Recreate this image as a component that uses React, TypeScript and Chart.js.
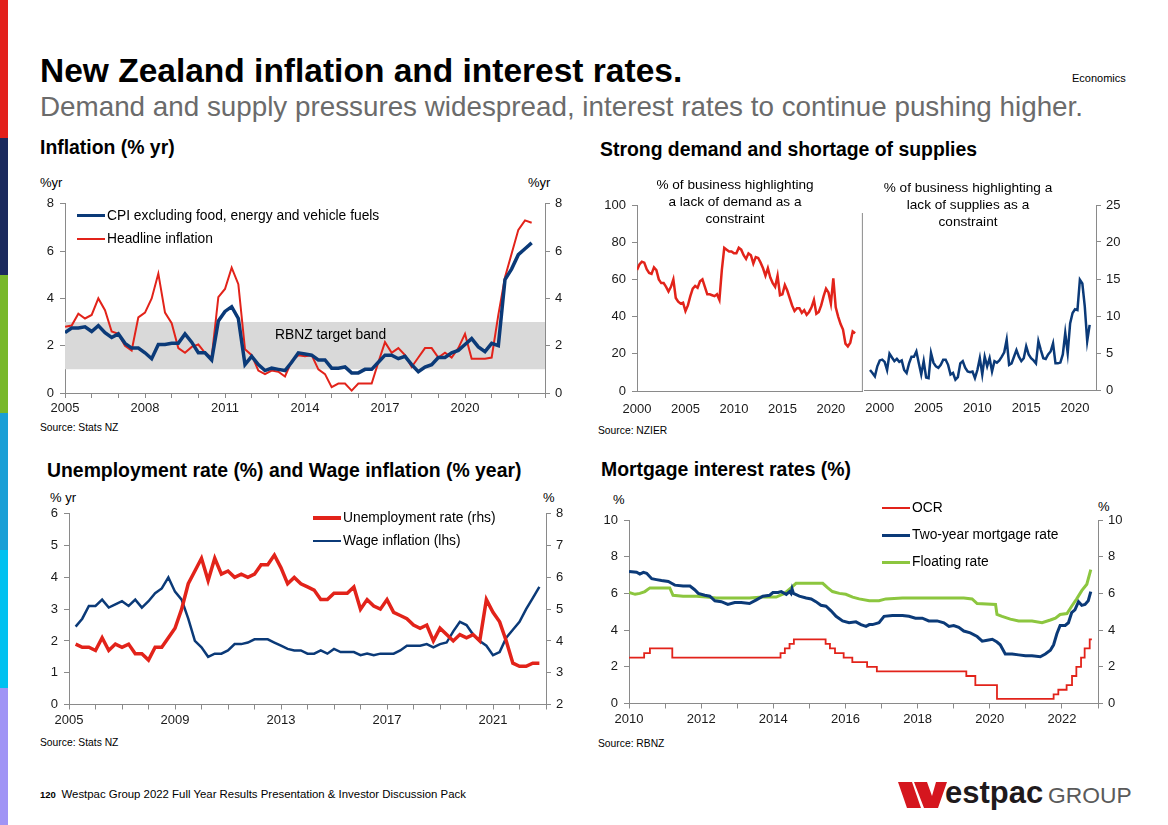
import React, { useEffect, useRef } from "react";
import { Chart, registerables } from "chart.js";

Chart.register(...registerables);

const FONT = '"Liberation Sans", Arial, Helvetica, sans-serif';
Chart.defaults.font.family = FONT;

const RED = "#e2231a";
const NAVY = "#0b3a78";
const GREEN = "#8cc63f";
const AXIS = "#8a8a8a";
const TXT = "#1a1a1a";
const BAND = "#d9d9d9";

// ---------------- Chart 1: Inflation (% yr), quarterly from 2005 Q1 ----------------
const inflStartYear = 2005;
const headlineInflation = [
  2.8, 2.85, 3.35, 3.15, 3.3, 4.0, 3.5, 2.6, 2.5, 2.0, 1.8, 3.2, 3.4, 4.0, 5.05, 3.4,
  2.95, 1.9, 1.7, 1.95, 2.05, 1.7, 1.5, 4.05, 4.4, 5.3, 4.6, 1.85, 1.6, 0.95, 0.8, 0.95,
  0.9, 0.7, 1.35, 1.6, 1.55, 1.6, 1.0, 0.8, 0.25, 0.4, 0.4, 0.1, 0.4, 0.4, 0.4, 1.3,
  2.15, 1.7, 1.9, 1.6, 1.1, 1.5, 1.9, 1.9, 1.5, 1.7, 1.5, 1.9, 2.5, 1.45, 1.45, 1.45,
  1.5, 3.3, 4.9, 5.9, 6.9, 7.3, 7.2,
];
const coreInflation = [
  2.55, 2.75, 2.75, 2.8, 2.6, 2.85, 2.55, 2.35, 2.5, 2.1, 1.9, 1.9, 1.7, 1.45, 2.05, 2.05,
  2.1, 2.1, 2.5, 2.15, 1.7, 1.7, 1.4, 3.05, 3.45, 3.65, 3.15, 1.2, 1.55, 1.2, 0.95, 1.05,
  1.0, 0.95, 1.3, 1.7, 1.65, 1.6, 1.4, 1.4, 1.05, 1.05, 1.1, 0.85, 0.85, 1.0, 1.0, 1.3,
  1.6, 1.6, 1.45, 1.55, 1.2, 0.9, 1.1, 1.2, 1.5, 1.5, 1.7, 1.8, 2.05, 2.3, 1.95, 1.75,
  2.1, 2.0, 4.8, 5.25, 5.85, 6.1, 6.35,
];
const targetBandLow = 1;
const targetBandHigh = 3;

// ---------------- Chart 2: NZIER constraints, quarterly ----------------
const demandStartYear = 2000;
const lackOfDemand = [
  65, 68, 69.5, 69, 65.5, 63.5, 63, 66.5, 65, 60, 58, 58, 56, 53.5, 56, 60, 50, 48, 47, 47.5,
  43, 46, 51, 55, 56.5, 55.5, 59, 60, 56, 52, 52, 51.5, 51, 52, 49, 65, 77, 76, 75, 75,
  74, 74, 77, 76, 73, 71, 74, 73, 68.5, 72, 71.5, 69, 66, 62, 66, 61, 58, 56, 62, 51.5,
  52, 57, 54, 50, 46, 43, 44.5, 44.5, 42, 43.5, 41, 42.5, 45, 49, 41.5, 42.5, 46, 51, 55, 53,
  47, 60.5, 45, 40, 36, 33, 25.5, 24, 26, 32, 31,
];
const supplyStartYear = 1999;
const lackOfSupplies = [
  2.7, 2.3, 1.85, 3.2, 4.0, 4.1, 3.8, 2.7, 4.9, 4.4, 3.9, 4.2, 3.8, 4.0, 2.7, 2.3, 3.6, 4.5, 4.5, 5.2,
  3.6, 2.1, 3.9, 1.7, 1.6, 5.0, 3.7, 3.2, 3.0, 3.4, 4.1, 4.1, 3.4, 2.1, 2.3, 1.4, 1.75, 3.6, 3.9, 3.0,
  2.5, 2.4, 2.5, 1.6, 2.7, 4.3, 2.1, 4.5, 3.2, 4.3, 2.5, 3.9, 3.7, 4.0, 4.5, 5.1, 6.8, 3.4, 3.6, 4.5,
  5.4, 4.5, 3.9, 4.3, 5.9, 4.8, 4.3, 4.0, 3.6, 6.6, 5.4, 4.3, 4.2, 4.8, 5.2, 6.3, 3.6, 3.6, 3.7, 4.8,
  7.7, 5.0, 9.0, 10.4, 10.9, 10.8, 14.9, 14.4, 11.3, 6.6, 8.8,
];

// ---------------- Chart 3: Unemployment & wages, quarterly ----------------
const labourStartYear = 2005.25;
const unemploymentRate = [
  3.9, 3.8, 3.8, 3.7, 4.1, 3.7, 3.9, 3.8, 3.9, 3.6, 3.6, 3.4, 3.8, 3.8, 4.1, 4.4, 5.0, 5.8, 6.2, 6.6,
  5.9, 6.6, 6.1, 6.2, 6.0, 6.1, 6.0, 6.1, 6.4, 6.4, 6.7, 6.3, 5.8, 6.0, 5.8, 5.7, 5.6, 5.3, 5.3, 5.5,
  5.5, 5.5, 5.7, 5.0, 5.3, 5.1, 5.0, 5.3, 4.9, 4.8, 4.7, 4.5, 4.4, 4.5, 4.0, 4.4, 4.2, 4.0, 4.2, 4.1,
  4.2, 4.0, 5.3, 4.9, 4.6, 4.0, 3.3, 3.2, 3.2, 3.3, 3.3,
];
const wageInflation = [
  2.45, 2.7, 3.1, 3.1, 3.3, 3.05, 3.15, 3.25, 3.1, 3.3, 3.05, 3.25, 3.5, 3.65, 4.0, 3.55, 3.3, 2.7, 2.0, 1.8,
  1.5, 1.6, 1.6, 1.7, 1.9, 1.9, 1.95, 2.05, 2.05, 2.05, 1.95, 1.85, 1.75, 1.7, 1.7, 1.6, 1.6, 1.7, 1.6, 1.75,
  1.65, 1.65, 1.65, 1.55, 1.6, 1.55, 1.6, 1.6, 1.6, 1.7, 1.85, 1.85, 1.85, 1.9, 1.8, 1.9, 1.95, 2.3, 2.6, 2.5,
  2.2, 2.0, 1.85, 1.55, 1.65, 2.1, 2.35, 2.6, 3.0, 3.35, 3.7,
];

// ---------------- Chart 4: Mortgage rates ----------------
const ocrDates = [
  2010.0, 2010.42, 2010.58, 2011.2, 2014.2, 2014.32, 2014.45, 2014.57, 2015.45, 2015.57, 2015.71, 2015.95,
  2016.19, 2016.6, 2016.87, 2019.35, 2019.6, 2020.2, 2021.77, 2021.9, 2022.13, 2022.28, 2022.4, 2022.53,
  2022.63, 2022.77, 2022.83,
];
const ocrRates = [
  2.5, 2.75, 3.0, 2.5, 2.75, 3.0, 3.25, 3.5, 3.25, 3.0, 2.75, 2.5,
  2.25, 2.0, 1.75, 1.5, 1.0, 0.25, 0.5, 0.75, 1.0, 1.5, 2.0, 2.5,
  3.0, 3.5, 3.5,
];
const twoYearDates = [
  2010.0, 2010.21, 2010.3, 2010.4, 2010.49, 2010.63, 2010.76, 2010.9, 2011.09, 2011.18, 2011.27, 2011.5,
  2011.69, 2011.82, 2011.92, 2012.1, 2012.24, 2012.38, 2012.56, 2012.74, 2012.93, 2013.11, 2013.34, 2013.53,
  2013.71, 2013.9, 2013.99, 2014.13, 2014.22, 2014.36, 2014.45, 2014.49, 2014.52, 2014.56, 2014.72, 2014.91,
  2015.05, 2015.18, 2015.32, 2015.46, 2015.6, 2015.74, 2015.92, 2016.1, 2016.29, 2016.43, 2016.57, 2016.66,
  2016.75, 2016.93, 2017.07, 2017.3, 2017.58, 2017.76, 2017.94, 2018.13, 2018.31, 2018.54, 2018.73, 2018.87,
  2019.0, 2019.14, 2019.28, 2019.46, 2019.65, 2019.79, 2019.93, 2020.07, 2020.2, 2020.29, 2020.43, 2020.62,
  2020.8, 2020.99, 2021.17, 2021.4, 2021.54, 2021.68, 2021.77, 2021.86, 2021.95, 2022.09, 2022.18, 2022.27,
  2022.36, 2022.46, 2022.55, 2022.64, 2022.73, 2022.8,
];
const twoYearRates = [
  7.2, 7.15, 7.05, 7.15, 7.1, 6.8, 6.75, 6.7, 6.65, 6.55, 6.45, 6.4,
  6.4, 6.2, 6.0, 5.9, 5.85, 5.6, 5.55, 5.4, 5.5, 5.5, 5.45, 5.65,
  5.85, 5.9, 6.05, 6.05, 6.1, 5.95, 6.1, 6.0, 6.25, 6.0, 5.85, 5.75,
  5.7, 5.55, 5.35, 5.3, 5.05, 4.75, 4.5, 4.4, 4.45, 4.3, 4.2, 4.3,
  4.3, 4.4, 4.75, 4.8, 4.8, 4.75, 4.65, 4.65, 4.5, 4.5, 4.4, 4.2,
  4.25, 4.15, 3.95, 3.85, 3.65, 3.4, 3.45, 3.5, 3.35, 3.2, 2.7, 2.7,
  2.65, 2.6, 2.6, 2.55, 2.7, 2.9, 3.2, 3.8, 4.25, 4.25, 4.4, 4.95,
  5.1, 5.55, 5.35, 5.4, 5.6, 6.1,
];
const floatingDates = [
  2010.0, 2010.17, 2010.3, 2010.44, 2010.58, 2011.13, 2011.22, 2011.5, 2011.87, 2012.15, 2012.42, 2013.34,
  2013.71, 2014.08, 2014.31, 2014.49, 2014.63, 2015.37, 2015.51, 2015.64, 2015.83, 2016.01, 2016.2, 2016.38,
  2016.66, 2016.93, 2017.12, 2017.58, 2019.28, 2019.51, 2019.65, 2020.16, 2020.2, 2020.34, 2020.57, 2020.8,
  2021.17, 2021.45, 2021.68, 2021.82, 2021.95, 2022.14, 2022.27, 2022.41, 2022.55, 2022.69, 2022.8,
];
const floatingRates = [
  6.05, 5.95, 6.0, 6.1, 6.3, 6.3, 5.9, 5.85, 5.85, 5.8, 5.75, 5.75,
  5.8, 5.8, 6.0, 6.3, 6.55, 6.55, 6.3, 6.1, 6.0, 5.95, 5.8, 5.7,
  5.6, 5.6, 5.7, 5.75, 5.75, 5.7, 5.45, 5.4, 4.85, 4.75, 4.6, 4.5,
  4.5, 4.4, 4.55, 4.65, 4.85, 4.9, 5.3, 5.7, 6.15, 6.5, 7.3,
];

// ---------------- helpers ----------------
const quarterly = (start: number, values: number[]) =>
  values.map((v, i) => ({ x: start + i * 0.25, y: v }));
const paired = (xs: number[], ys: number[]) => xs.map((x, i) => ({ x, y: ys[i] }));

const tickFont = { family: FONT, size: 13 };

function yAxis(position: string, min: number, max: number, step: number, width: number, pad = 6) {
  return {
    type: "linear",
    position,
    min,
    max,
    ticks: { stepSize: step, font: tickFont, color: TXT, padding: pad },
    grid: { display: true, drawOnChartArea: false, drawTicks: true, tickLength: 5, color: AXIS },
    border: { display: true, color: AXIS, width: 1 },
    afterFit: (s: any) => {
      s.width = width;
    },
  };
}

function xAxis(min: number, max: number, isLabel: (v: number) => boolean, height: number, marks = true) {
  return {
    type: "linear",
    position: "bottom",
    min,
    max,
    afterBuildTicks: (s: any) => {
      const t: any[] = [];
      for (let y = Math.ceil(min); y <= Math.floor(max); y++) t.push({ value: y });
      s.ticks = t;
    },
    ticks: {
      autoSkip: false,
      maxRotation: 0,
      font: tickFont,
      color: TXT,
      padding: marks ? 3 : 6,
      callback: (v: any) => (isLabel(Number(v)) ? String(v) : ""),
    },
    grid: { display: marks, drawOnChartArea: false, drawTicks: true, tickLength: 5, color: AXIS },
    border: { display: true, color: AXIS, width: 1 },
    afterFit: (s: any) => {
      s.height = height;
    },
  };
}

const line = (data: any[], color: string, width: number, extra: any = {}) => ({
  data,
  borderColor: color,
  backgroundColor: color,
  borderWidth: width,
  pointRadius: 0,
  tension: 0,
  fill: false,
  ...extra,
});

const baseOptions = (padding: any, scales: any, plugins: any = {}) => ({
  responsive: false,
  animation: false,
  devicePixelRatio: 1,
  layout: { padding },
  scales,
  plugins: { legend: { display: false }, tooltip: { enabled: false }, ...plugins },
  events: [],
});

const dividerPlugin = {
  id: "divider",
  afterDraw(chart: any) {
    const { ctx, chartArea } = chart;
    ctx.save();
    ctx.strokeStyle = AXIS;
    ctx.lineWidth = 1;
    ctx.beginPath();
    ctx.moveTo(chartArea.right - 0.5, chartArea.top + 8);
    ctx.lineTo(chartArea.right - 0.5, chartArea.bottom);
    ctx.stroke();
    ctx.restore();
  },
};

// ---------------- chart configs ----------------
const inflationConfig = () => ({
  type: "line",
  data: {
    datasets: [
      line(quarterly(inflStartYear, coreInflation), NAVY, 3.5, { order: 1 }),
      line(quarterly(inflStartYear, headlineInflation), RED, 2, { order: 2 }),
      line(
        [
          { x: 2005, y: targetBandHigh },
          { x: 2023, y: targetBandHigh },
        ],
        BAND,
        0,
        { fill: "+1", backgroundColor: BAND, order: 10 }
      ),
      line(
        [
          { x: 2005, y: targetBandLow },
          { x: 2023, y: targetBandLow },
        ],
        BAND,
        0,
        { order: 11 }
      ),
    ],
  },
  options: baseOptions(
    { top: 12, left: 0, right: 0, bottom: 0 },
    {
      x: xAxis(2005, 2023, (v) => v < 2023 && (v - 2005) % 3 === 0, 22),
      y: yAxis("left", 0, 8, 2, 40),
      y2: yAxis("right", 0, 8, 2, 40, 5),
    }
  ),
});

const demandConfig = () => ({
  type: "line",
  data: { datasets: [line(quarterly(demandStartYear, lackOfDemand), RED, 2.5)] },
  options: baseOptions(
    { top: 15, left: 0, right: 2, bottom: 0 },
    {
      x: xAxis(2000, 2023.3, (v) => v % 5 === 0, 24, false),
      y: yAxis("left", 0, 100, 20, 47),
    }
  ),
  plugins: [dividerPlugin],
});

const supplyConfig = () => ({
  type: "line",
  data: { datasets: [line(quarterly(supplyStartYear, lackOfSupplies), NAVY, 2.5, { yAxisID: "y" })] },
  options: baseOptions(
    { top: 15, left: 0, right: 0, bottom: 0 },
    {
      x: xAxis(1998.4, 2022.15, (v) => v % 5 === 0, 25, false),
      y: yAxis("right", 0, 25, 5, 58, 5),
    }
  ),
});

const labourConfig = () => ({
  type: "line",
  data: {
    datasets: [
      line(quarterly(labourStartYear, unemploymentRate), RED, 3.5, { yAxisID: "y2" }),
      line(quarterly(labourStartYear, wageInflation), NAVY, 2.5, { yAxisID: "y" }),
    ],
  },
  options: baseOptions(
    { top: 12, left: 0, right: 0, bottom: 0 },
    {
      x: xAxis(2005, 2023, (v) => (v - 2005) % 4 === 0, 25.5),
      y: yAxis("left", 0, 6, 1, 44),
      y2: yAxis("right", 2, 8, 1, 39, 5),
    }
  ),
});

const mortgageConfig = () => ({
  type: "line",
  data: {
    datasets: [
      line(paired(ocrDates, ocrRates), RED, 1.8, { stepped: "before" }),
      line(paired(twoYearDates, twoYearRates), NAVY, 3),
      line(paired(floatingDates, floatingRates), GREEN, 3),
    ],
  },
  options: baseOptions(
    { top: 15, left: 0, right: 0, bottom: 0 },
    {
      x: xAxis(2010, 2023, (v) => v < 2023 && v % 2 === 0, 26.5),
      y: yAxis("left", 0, 10, 2, 44),
      y2: yAxis("right", 0, 10, 2, 52, 5),
    }
  ),
});

// ---------------- components ----------------
type Box = { left: number; top: number; width: number; height: number };

function ChartCanvas({ box, make }: { box: Box; make: () => any }) {
  const ref = useRef<HTMLCanvasElement | null>(null);
  useEffect(() => {
    if (!ref.current) return;
    const chart = new Chart(ref.current, make() as any);
    return () => chart.destroy();
  }, []);
  return (
    <canvas
      ref={ref}
      width={box.width}
      height={box.height}
      style={{ position: "absolute", left: box.left, top: box.top, width: box.width, height: box.height }}
    />
  );
}

function T({
  x,
  y,
  size,
  children,
  bold = false,
  color = "#000",
  w,
  align = "left",
  lh = 1,
}: {
  x: number;
  y: number;
  size: number;
  children: any;
  bold?: boolean;
  color?: string;
  w?: number;
  align?: any;
  lh?: number;
}) {
  return (
    <div
      style={{
        position: "absolute",
        left: x,
        top: y,
        width: w,
        fontSize: size,
        lineHeight: lh,
        fontWeight: bold ? 700 : 400,
        color,
        textAlign: align,
        whiteSpace: "pre",
        fontFamily: FONT,
      }}
    >
      {children}
    </div>
  );
}

const LEGEND_SIZE = 13.8;

function LegendItem({ x, y, color, width, label }: { x: number; y: number; color: string; width: number; label: string }) {
  return (
    <>
      <div style={{ position: "absolute", left: x, top: y - width / 2, width: 28, height: width, background: color }} />
      <T x={x + 30} y={y - LEGEND_SIZE / 2} size={LEGEND_SIZE}>
        {label}
      </T>
    </>
  );
}

const barColors = ["#e3201b", "#1b2a5e", "#78b82a", "#1a9fd6", "#00c1f0", "#a094f5"];
const HEAD = 19.4;

export default function App() {
  return (
    <div
      style={{
        position: "absolute",
        left: 0,
        top: 0,
        width: 1168,
        height: 825,
        background: "#fff",
        overflow: "hidden",
        fontFamily: FONT,
      }}
    >
      {barColors.map((c, i) => (
        <div key={c} style={{ position: "absolute", left: 0, top: i * 137.5, width: 8, height: 137.5, background: c }} />
      ))}

      <T x={40} y={54} size={33.5} bold>
        New Zealand inflation and interest rates.
      </T>
      <T x={1072} y={72.5} size={11}>
        Economics
      </T>
      <T x={40} y={93} size={27.8} color="#6b6b6b">
        Demand and supply pressures widespread, interest rates to continue pushing higher.
      </T>

      {/* Chart 1 */}
      <T x={40} y={138} size={HEAD} bold>
        Inflation (% yr)
      </T>
      <T x={40} y={175.5} size={13}>
        %yr
      </T>
      <T x={528} y={175.5} size={13}>
        %yr
      </T>
      <ChartCanvas box={{ left: 25, top: 190, width: 560, height: 225 }} make={inflationConfig} />
      <LegendItem x={77} y={215.5} color={NAVY} width={3.5} label="CPI excluding food, energy and vehicle fuels" />
      <LegendItem x={77} y={239} color={RED} width={2} label="Headline inflation" />
      <T x={275} y={328} size={LEGEND_SIZE}>
        RBNZ target band
      </T>
      <T x={40} y={422.5} size={10.3}>
        Source: Stats NZ
      </T>

      {/* Chart 2 */}
      <T x={600} y={140} size={HEAD} bold>
        Strong demand and shortage of supplies
      </T>
      <ChartCanvas box={{ left: 590, top: 190, width: 276, height: 225 }} make={demandConfig} />
      <ChartCanvas box={{ left: 864, top: 190, width: 290, height: 225 }} make={supplyConfig} />
      <T x={635} y={177} w={200} size={13.6} align="center" lh={1.25}>
        {"% of business highlighting\na lack of demand as a\nconstraint"}
      </T>
      <T x={868} y={180} w={200} size={13.6} align="center" lh={1.25}>
        {"% of business highlighting a\nlack of supplies as a\nconstraint"}
      </T>
      <T x={598} y={425.5} size={10.3}>
        Source: NZIER
      </T>

      {/* Chart 3 */}
      <T x={47} y={461} size={HEAD} bold>
        Unemployment rate (%) and Wage inflation (% year)
      </T>
      <T x={50} y={490.5} size={13}>
        % yr
      </T>
      <T x={543} y={490.5} size={13}>
        %
      </T>
      <ChartCanvas box={{ left: 25, top: 500, width: 560, height: 230 }} make={labourConfig} />
      <LegendItem x={313} y={518} color={RED} width={3.5} label="Unemployment rate (rhs)" />
      <LegendItem x={313} y={541} color={NAVY} width={2.5} label="Wage inflation (lhs)" />
      <T x={40} y={737.5} size={10.3}>
        Source: Stats NZ
      </T>

      {/* Chart 4 */}
      <T x={601} y={460} size={HEAD} bold>
        Mortgage interest rates (%)
      </T>
      <T x={613} y={493} size={13}>
        %
      </T>
      <T x={1098} y={500} size={13}>
        %
      </T>
      <ChartCanvas box={{ left: 585, top: 505, width: 565, height: 225 }} make={mortgageConfig} />
      <LegendItem x={882} y={508} color={RED} width={2} label="OCR" />
      <LegendItem x={882} y={535} color={NAVY} width={3} label="Two-year mortgage rate" />
      <LegendItem x={882} y={562} color={GREEN} width={3} label="Floating rate" />
      <T x={598} y={738.5} size={10.3}>
        Source: RBNZ
      </T>

      {/* Footer */}
      <T x={40} y={790} size={9.5} bold>
        120
      </T>
      <T x={61.5} y={789} size={11.4}>
        Westpac Group 2022 Full Year Results Presentation &amp; Investor Discussion Pack
      </T>
      <svg style={{ position: "absolute", left: 898, top: 781 }} width={50} height={28} viewBox="0 0 50 28">
        <polygon points="0,1 14,1 23,27 9,27" fill="#d5161e" />
        <polygon points="16,1 29,1 34,15 38,1 49,1 40,27 26,27" fill="#d5161e" />
      </svg>
      <T x={945} y={777} size={31} bold color="#1f1a1c">
        estpac
      </T>
      <T x={1048} y={783.5} size={22.8} color="#5a5a5a">
        GROUP
      </T>
    </div>
  );
}
